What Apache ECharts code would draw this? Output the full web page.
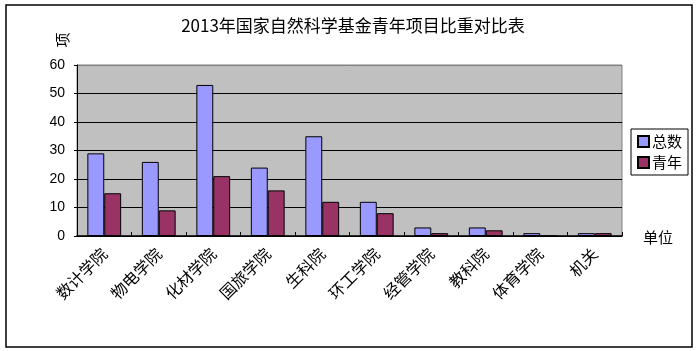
<!DOCTYPE html>
<html>
<head>
<meta charset="utf-8">
<script src="https://cdn.jsdelivr.net/npm/echarts@6/dist/echarts.min.js"></script>
<style>
  html, body { margin: 0; padding: 0; background: #fff; }
  #chart { width: 696px; height: 351px; }
</style>
</head>
<body>
<div id="chart"></div>
<script>
// 各学院
var categories = ['数计学院', '物电学院', '化材学院', '国旅学院', '生科院', '环工学院', '经管学院', '教科院', '体育学院', '机关'];
var totalVals = [29, 26, 53, 24, 35, 12, 3, 3, 1, 1];   // 总数
var youthVals = [15, 9, 21, 16, 12, 8, 1, 2, 0, 1];     // 青年
var yTicks = [0, 10, 20, 30, 40, 50, 60];

var cjk = '"Noto Sans CJK SC", sans-serif';
var chart = echarts.init(document.getElementById('chart'));

var option = {
  backgroundColor: '#ffffff',
  animation: false,
  title: {
    text: '2013年国家自然科学基金青年项目比重对比表',
    left: 348,
    textAlign: 'center',
    top: 12,
    textStyle: { fontFamily: cjk, fontSize: 17, fontWeight: 'normal', color: '#000' }
  },
  legend: {
    orient: 'vertical',
    left: 631,
    top: 129,
    padding: [5, 6, 5, 6],
    itemGap: 6,
    itemWidth: 11,
    itemHeight: 11,
    icon: 'rect',
    borderColor: '#000',
    borderWidth: 1,
    textStyle: { fontFamily: cjk, fontSize: 15, color: '#000', padding: [0, 0, 0, -2] },
    data: ['总数', '青年']
  },
  grid: {
    left: 77, top: 65, right: 74, bottom: 115,
    show: true,
    backgroundColor: '#C0C0C0',
    borderColor: '#808080',
    borderWidth: 1
  },
  xAxis: {
    type: 'category',
    data: categories,
    axisLine: { lineStyle: { color: '#000', width: 1.5 } },
    axisTick: { show: true, inside: true, length: 4, lineStyle: { color: '#000' } },
    axisLabel: {
      rotate: 45,
      interval: 0,
      margin: 15,
      fontFamily: cjk,
      fontSize: 16,
      color: '#000'
    }
  },
  yAxis: {
    type: 'value',
    min: yTicks[0],
    max: yTicks[yTicks.length - 1],
    interval: 10,
    axisLine: { show: true, lineStyle: { color: '#000' } },
    axisTick: { show: true, length: 3, lineStyle: { color: '#000' } },
    axisLabel: { margin: 12, fontFamily: 'Liberation Sans, Arial', fontSize: 14, color: '#000' },
    splitLine: {
      lineStyle: { color: ['#000', '#000', '#000', '#000', '#000', '#000', '#808080'], width: 1.2 }
    }
  },
  series: [
    {
      name: '总数',
      type: 'bar',
      data: totalVals,
      barGap: '0%',
      barCategoryGap: '38%',
      itemStyle: { color: '#9999FF', borderColor: '#000', borderWidth: 1 }
    },
    {
      name: '青年',
      type: 'bar',
      data: youthVals,
      itemStyle: { color: '#993366', borderColor: '#000', borderWidth: 1 }
    }
  ],
  graphic: [
    {
      type: 'rect',
      shape: { x: 6, y: 5, width: 686, height: 342 },
      style: { fill: null, stroke: '#000', lineWidth: 1.5 },
      silent: true
    },
    {
      type: 'text',
      x: 62, y: 40,
      rotation: Math.PI / 2,
      style: { text: '项', fontFamily: cjk, fontSize: 15, fill: '#000', align: 'center', verticalAlign: 'middle' }
    },
    {
      type: 'text',
      x: 658, y: 237,
      style: { text: '单位', fontFamily: cjk, fontSize: 15, fill: '#000', align: 'center', verticalAlign: 'middle' }
    }
  ]
};

chart.setOption(option);
</script>
</body>
</html>
